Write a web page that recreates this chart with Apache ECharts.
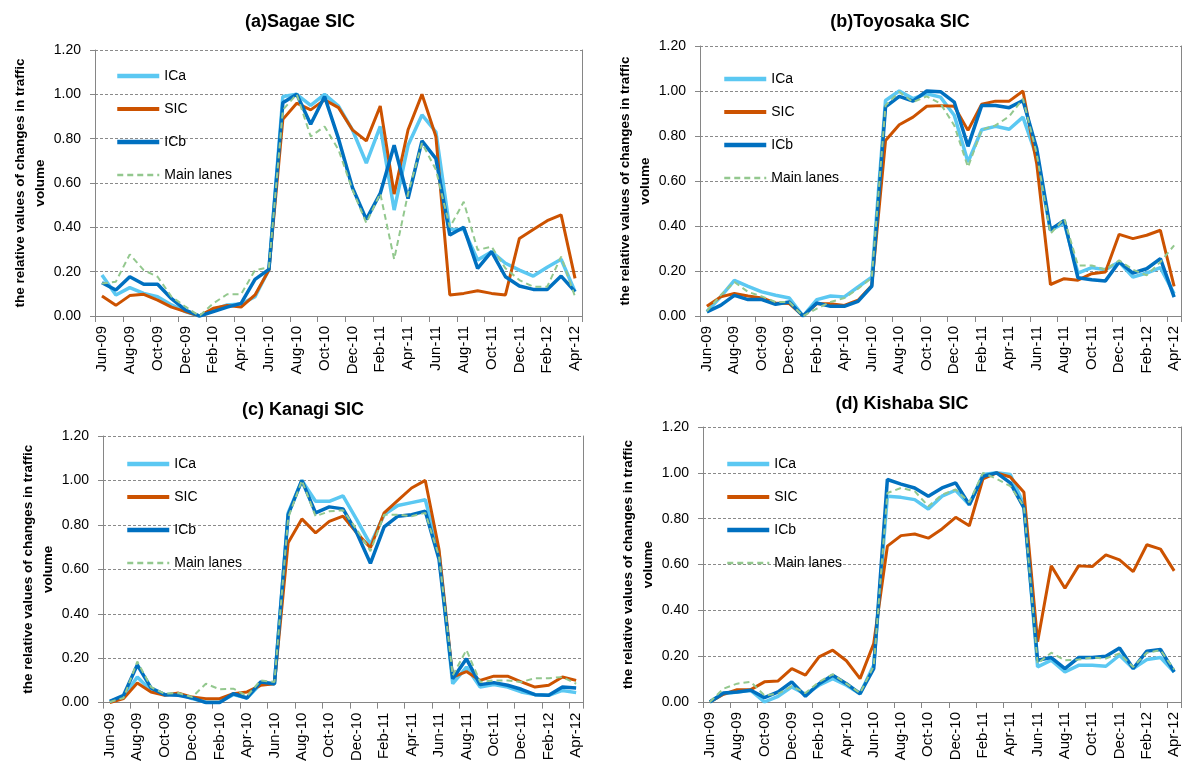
<!DOCTYPE html>
<html>
<head>
<meta charset="utf-8">
<script src="https://cdn.jsdelivr.net/npm/echarts@6/dist/echarts.min.js"></script>
<style>
  html, body { margin: 0; padding: 0; background: #ffffff; }
  #chart { width: 1182px; height: 764px; }
</style>
</head>
<body>
<div id="chart"></div>
<script>
// Monthly observation periods, June 2009 to April 2012
const months = [
  'Jun-09','Jul-09','Aug-09','Sep-09','Oct-09','Nov-09','Dec-09',
  'Jan-10','Feb-10','Mar-10','Apr-10','May-10','Jun-10','Jul-10','Aug-10','Sep-10','Oct-10','Nov-10','Dec-10',
  'Jan-11','Feb-11','Mar-11','Apr-11','May-11','Jun-11','Jul-11','Aug-11','Sep-11','Oct-11','Nov-11','Dec-11',
  'Jan-12','Feb-12','Mar-12','Apr-12'
];

const seriesNames = ['ICa', 'SIC', 'ICb', 'Main lanes'];
const yAxisTitle = 'the relative values of changes in traffic\nvolume';

// (a) Sagae SIC
const sagaeICa  = [0.185,0.095,0.128,0.102,0.087,0.050,0.020,0.000,0.027,0.050,0.054,0.087,0.210,0.990,1.000,0.950,1.000,0.947,0.840,0.690,0.855,0.478,0.770,0.907,0.830,0.390,0.390,0.253,0.290,0.238,0.207,0.180,0.220,0.256,0.110];
const sagaeSIC  = [0.090,0.048,0.092,0.098,0.072,0.040,0.020,0.000,0.035,0.047,0.040,0.095,0.207,0.887,0.960,0.930,0.975,0.940,0.840,0.790,0.947,0.550,0.840,1.000,0.810,0.095,0.102,0.114,0.102,0.095,0.350,0.390,0.430,0.456,0.170];
const sagaeICb  = [0.150,0.117,0.177,0.143,0.143,0.078,0.027,0.000,0.020,0.040,0.057,0.165,0.210,0.962,1.000,0.865,0.990,0.800,0.580,0.436,0.553,0.770,0.530,0.790,0.710,0.365,0.400,0.215,0.290,0.177,0.135,0.120,0.120,0.180,0.110];
const sagaeMain = [0.147,0.155,0.278,0.207,0.177,0.087,0.042,0.000,0.057,0.098,0.098,0.207,0.220,0.930,1.000,0.810,0.855,0.750,0.570,0.420,0.553,0.256,0.553,0.780,0.660,0.400,0.515,0.298,0.313,0.215,0.162,0.132,0.132,0.268,0.087];

// (b) Toyosaka SIC
const toyosakaICa  = [0.020,0.085,0.158,0.132,0.107,0.092,0.080,0.000,0.073,0.089,0.085,0.129,0.173,0.958,1.000,0.966,0.988,0.973,0.892,0.684,0.828,0.843,0.830,0.884,0.707,0.380,0.413,0.191,0.215,0.206,0.240,0.173,0.191,0.215,0.099];
const toyosakaSIC  = [0.043,0.085,0.100,0.089,0.080,0.058,0.055,0.000,0.055,0.055,0.047,0.070,0.136,0.780,0.850,0.884,0.932,0.935,0.932,0.825,0.941,0.955,0.955,1.000,0.677,0.140,0.166,0.159,0.188,0.196,0.363,0.344,0.359,0.381,0.132];
const toyosakaICb  = [0.018,0.047,0.092,0.073,0.073,0.052,0.062,0.000,0.058,0.043,0.043,0.065,0.132,0.929,0.976,0.955,1.000,0.997,0.951,0.754,0.936,0.936,0.926,0.958,0.744,0.384,0.425,0.170,0.161,0.156,0.240,0.191,0.210,0.255,0.084];
const toyosakaMain = [0.022,0.092,0.151,0.107,0.087,0.062,0.062,0.000,0.033,0.062,0.080,0.121,0.170,0.936,0.996,0.951,0.976,0.944,0.847,0.662,0.828,0.847,0.887,0.966,0.721,0.366,0.433,0.225,0.225,0.206,0.247,0.206,0.181,0.240,0.314];

// (c) Kanagi SIC
const kanagiICa  = [0.005,0.025,0.115,0.055,0.036,0.040,0.018,0.003,0.003,0.036,0.021,0.085,0.085,0.854,1.000,0.906,0.906,0.931,0.824,0.712,0.846,0.887,0.900,0.913,0.675,0.085,0.160,0.070,0.081,0.070,0.048,0.036,0.033,0.055,0.045];
const kanagiSIC  = [0.000,0.018,0.088,0.048,0.033,0.043,0.025,0.018,0.018,0.040,0.048,0.078,0.085,0.720,0.827,0.764,0.816,0.839,0.764,0.697,0.854,0.910,0.966,1.000,0.690,0.115,0.140,0.100,0.119,0.119,0.093,0.070,0.078,0.115,0.100];
const kanagiICb  = [0.006,0.033,0.170,0.066,0.036,0.033,0.021,0.000,0.000,0.040,0.021,0.093,0.085,0.846,1.000,0.854,0.881,0.872,0.764,0.627,0.791,0.839,0.846,0.861,0.645,0.107,0.197,0.081,0.090,0.078,0.060,0.036,0.033,0.070,0.066];
const kanagiMain = [0.003,0.021,0.185,0.070,0.040,0.043,0.025,0.085,0.060,0.063,0.030,0.100,0.093,0.831,1.000,0.839,0.861,0.866,0.779,0.682,0.846,0.846,0.839,0.854,0.660,0.122,0.237,0.093,0.100,0.100,0.093,0.110,0.110,0.115,0.085];

// (d) Kishaba SIC
const kishabaICa  = [0.000,0.036,0.044,0.051,0.000,0.025,0.066,0.034,0.073,0.102,0.073,0.036,0.160,0.898,0.893,0.883,0.842,0.898,0.924,0.861,0.993,1.000,0.993,0.861,0.153,0.182,0.131,0.160,0.160,0.156,0.204,0.146,0.185,0.194,0.131];
const kishabaSIC  = [0.000,0.034,0.054,0.054,0.088,0.092,0.146,0.117,0.197,0.226,0.180,0.102,0.255,0.680,0.726,0.733,0.715,0.755,0.806,0.769,0.974,1.000,0.982,0.915,0.263,0.594,0.496,0.594,0.591,0.642,0.620,0.569,0.686,0.667,0.572];
const kishabaICb  = [0.000,0.039,0.044,0.051,0.019,0.044,0.088,0.025,0.080,0.117,0.080,0.036,0.146,0.971,0.951,0.934,0.898,0.934,0.956,0.861,0.985,1.000,0.956,0.847,0.182,0.194,0.146,0.194,0.194,0.200,0.236,0.146,0.222,0.229,0.131];
const kishabaMain = [0.000,0.058,0.080,0.088,0.029,0.036,0.069,0.039,0.088,0.121,0.080,0.039,0.156,0.912,0.934,0.920,0.854,0.905,0.927,0.872,1.000,0.974,0.942,0.854,0.168,0.215,0.182,0.185,0.194,0.190,0.212,0.153,0.215,0.226,0.142];

const panels = [
  { title: '(a)Sagae SIC',    series: [sagaeICa, sagaeSIC, sagaeICb, sagaeMain],
    grid: { left: 95,  top: 50,  width: 487, height: 266 }, titlePos: [300, 22],  legendPos: [115, 69] },
  { title: '(b)Toyosaka SIC', series: [toyosakaICa, toyosakaSIC, toyosakaICb, toyosakaMain],
    grid: { left: 700, top: 46,  width: 481, height: 270 }, titlePos: [900, 22],  legendPos: [722, 72] },
  { title: '(c) Kanagi SIC',  series: [kanagiICa, kanagiSIC, kanagiICb, kanagiMain],
    grid: { left: 103, top: 436, width: 480, height: 268 }, titlePos: [303, 410], legendPos: [125, 457] },
  { title: '(d) Kishaba SIC', series: [kishabaICa, kishabaSIC, kishabaICb, kishabaMain],
    grid: { left: 703, top: 427, width: 478, height: 275 }, titlePos: [902, 404], legendPos: [725, 457] }
];

const FONT = '"Liberation Sans", Arial, sans-serif';
const AXIS_GRAY = '#868686';
const GRID_GRAY = '#8a8a8a';

const lineStyles = {
  'ICa':        { color: '#5BC8F2', width: 3.5, type: 'solid' },
  'SIC':        { color: '#CC5200', width: 3,   type: 'solid' },
  'ICb':        { color: '#0070C0', width: 3.5, type: 'solid' },
  'Main lanes': { color: '#93C88E', width: 2,   type: [6, 4] }
};
// legend keys are drawn a little heavier than the plotted lines
const legendWidths = { 'ICa': 4.5, 'SIC': 4, 'ICb': 4.5, 'Main lanes': 2.5 };

const grids = [], xAxes = [], yAxes = [], rightAxes = [], series = [], legends = [], titles = [];

panels.forEach((p, i) => {
  grids.push(Object.assign({ containLabel: false }, p.grid));

  xAxes.push({
    type: 'category', gridIndex: i, data: months, boundaryGap: true,
    axisLine: { show: true, lineStyle: { color: AXIS_GRAY, width: 1 } },
    axisTick: { show: true, interval: 1, length: 6, lineStyle: { color: AXIS_GRAY } },
    axisLabel: { interval: 1, rotate: 90, fontSize: 15, color: '#000', margin: 10, fontFamily: FONT },
    splitLine: { show: false }
  });

  yAxes.push({
    type: 'value', gridIndex: i, min: 0, max: 1.2, interval: 0.2,
    axisLine: { show: true, lineStyle: { color: AXIS_GRAY, width: 1 } },
    axisTick: { show: true, length: 5, lineStyle: { color: AXIS_GRAY } },
    axisLabel: { fontSize: 14, color: '#000', margin: 14, fontFamily: FONT,
                 formatter: v => v.toFixed(2) },
    splitLine: { show: true, lineStyle: { color: GRID_GRAY, width: 1, type: [3, 2] } },
    name: yAxisTitle, nameLocation: 'middle', nameRotate: 90, nameGap: 41,
    nameTextStyle: { fontSize: 13.5, fontWeight: 'bold', color: '#000', lineHeight: 20, fontFamily: FONT }
  });

  // plot-area border on the right side
  rightAxes.push({
    type: 'value', gridIndex: i, position: 'right', min: 0, max: 1.2, interval: 0.2,
    axisLine: { show: true, lineStyle: { color: AXIS_GRAY, width: 1 } },
    axisTick: { show: false }, axisLabel: { show: false }, splitLine: { show: false }
  });

  p.series.forEach((vals, k) => {
    const name = seriesNames[k];
    series.push({
      name: name, type: 'line', xAxisIndex: i, yAxisIndex: i,
      data: vals, symbol: 'none', showSymbol: false, smooth: false,
      lineStyle: lineStyles[name], itemStyle: { color: lineStyles[name].color },
      z: 2 + k
    });
  });

  // legend keys are plain line samples, no marker
  legends.push({
    orient: 'vertical', left: p.legendPos[0], top: p.legendPos[1], padding: 0,
    data: seriesNames.map(n => ({
      name: n,
      lineStyle: { width: legendWidths[n], color: lineStyles[n].color, type: lineStyles[n].type }
    })),
    itemWidth: 42, itemHeight: 14, itemGap: 19,
    itemStyle: { opacity: 0 },
    textStyle: { fontSize: 14, color: '#000', fontFamily: FONT, lineHeight: 14 },
    selectedMode: false
  });

  titles.push({
    type: 'text', x: p.titlePos[0], y: p.titlePos[1],
    style: { text: p.title, fill: '#000', font: 'bold 18px ' + FONT,
             textAlign: 'center', textVerticalAlign: 'middle' }
  });
});

const chart = echarts.init(document.getElementById('chart'), null, { renderer: 'canvas' });
chart.setOption({
  animation: false,
  backgroundColor: '#ffffff',
  grid: grids,
  xAxis: xAxes,
  yAxis: yAxes.concat(rightAxes),
  legend: legends,
  series: series,
  graphic: titles
});
</script>
</body>
</html>
